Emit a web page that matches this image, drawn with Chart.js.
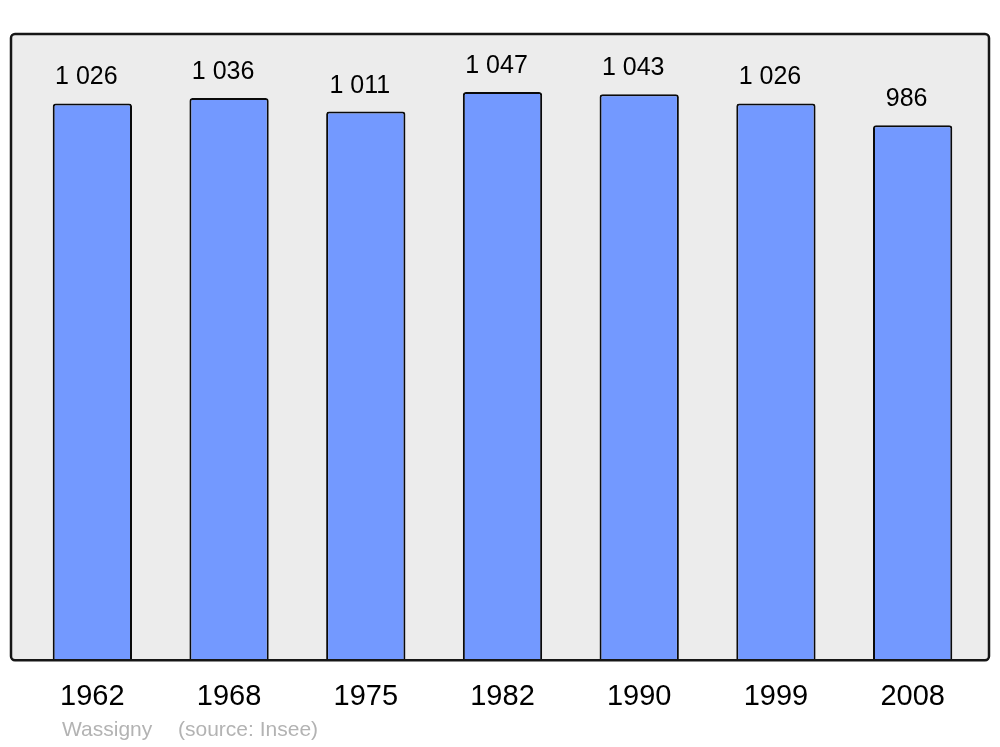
<!DOCTYPE html>
<html lang="fr">
<head>
    <meta charset="UTF-8">
    <title>Wassigny - population</title>
    <script src="https://cdn.jsdelivr.net/npm/chart.js@4"></script>
    <style>
        html, body { margin: 0; padding: 0; background: #ffffff; }
        #wrap { width: 1000px; height: 747px; }
    </style>
</head>
<body>
    <div id="wrap"><canvas id="popChart" width="1000" height="747"></canvas></div>
    <script>
        const years = ['1962', '1968', '1975', '1982', '1990', '1999', '2008'];
        const population = [1026, 1036, 1011, 1047, 1043, 1026, 986];
        const townName = 'Wassigny';
        const sourceNote = '(source: Insee)';

        function formatFr(v) {
            return String(v).replace(/\B(?=(\d{3})+(?!\d))/g, ' ');
        }

        // grey frame behind the bars, black border on top
        const framePlugin = {
            id: 'frame',
            beforeDatasetsDraw(chart) {
                const a = chart.chartArea;
                const c = chart.ctx;
                c.save();
                c.beginPath();
                c.roundRect(11, a.top, 978, a.bottom - a.top, 4);
                c.fillStyle = '#ececec';
                c.fill();
                c.restore();
            },
            afterDatasetsDraw(chart) {
                const a = chart.chartArea;
                const c = chart.ctx;
                c.save();
                c.beginPath();
                c.roundRect(11, a.top, 978, a.bottom - a.top, 4);
                c.lineWidth = 2.5;
                c.strokeStyle = '#161616';
                c.stroke();

                // value labels above each bar
                const meta = chart.getDatasetMeta(0);
                c.font = '25px "Liberation Sans", Arial, sans-serif';
                c.fillStyle = '#000000';
                c.textAlign = 'center';
                c.textBaseline = 'alphabetic';
                meta.data.forEach((bar, i) => {
                    c.fillText(formatFr(population[i]), bar.x - 6, bar.y - 19);
                });

                // footnote
                c.font = '21px "Liberation Sans", Arial, sans-serif';
                c.fillStyle = '#b3b3b3';
                c.textAlign = 'left';
                c.textBaseline = 'middle';
                c.fillText(townName, 62, 730);
                c.fillText(sourceNote, 178, 730);
                c.restore();
            }
        };

        const ctx = document.getElementById('popChart').getContext('2d');
        new Chart(ctx, {
            type: 'bar',
            data: {
                labels: years,
                datasets: [{
                    data: population,
                    backgroundColor: '#7399ff',
                    borderColor: '#0a0a0a',
                    borderWidth: 2,
                    borderRadius: 3,
                    borderSkipped: 'bottom',
                    barPercentage: 0.58,
                    categoryPercentage: 1.0
                }]
            },
            options: {
                responsive: false,
                animation: false,
                devicePixelRatio: 1,
                layout: {
                    padding: { left: 24, right: 19, top: 34, bottom: 22 }
                },
                plugins: {
                    legend: { display: false },
                    tooltip: { enabled: false }
                },
                scales: {
                    x: {
                        grid: { display: false },
                        border: { display: false },
                        ticks: {
                            padding: 11,
                            color: '#000000',
                            autoSkip: false,
                            maxRotation: 0,
                            font: { family: '"Liberation Sans", Arial, sans-serif', size: 29 }
                        }
                    },
                    y: {
                        display: false,
                        min: 0,
                        max: 1154
                    }
                }
            },
            plugins: [framePlugin]
        });
    </script>
</body>
</html>
